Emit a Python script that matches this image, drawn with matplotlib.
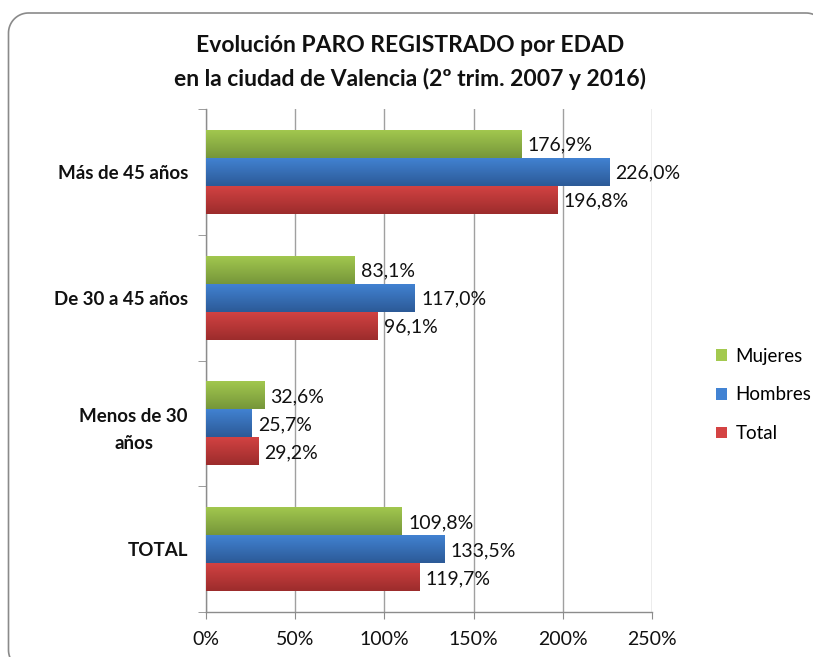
import numpy as np
import matplotlib
matplotlib.use("Agg")
import matplotlib.pyplot as plt
from matplotlib.patches import Patch, PathPatch
from matplotlib.path import Path
from matplotlib.ticker import FixedLocator, PercentFormatter

plt.rcParams["font.family"] = ["Lato", "DejaVu Sans"]

# Categories listed bottom to top on the y axis
categories = ["TOTAL", "Menos de 30\naños", "De 30 a 45 años", "Más de 45 años"]
series_names = ["Mujeres", "Hombres", "Total"]
mujeres = [109.8, 32.6, 83.1, 176.9]
hombres = [133.5, 25.7, 117.0, 226.0]
total = [119.7, 29.2, 96.1, 196.8]
xticks = [0, 50, 100, 150, 200, 250]

# (top colour, bottom colour) of each series' vertical gradient
colors = {
    "Mujeres": ("#a3c94f", "#76963a"),
    "Hombres": ("#4283d3", "#2c5a97"),
    "Total": ("#d44343", "#9c2c2c"),
}

W, H = 813, 657
fig = plt.figure(figsize=(W / 100, H / 100), dpi=100)
fig.patch.set_facecolor("white")


def rounded_rect(x0, y0, x1, y1, r, n=24):
    """Closed rounded-rectangle outline in figure pixel units (y down)."""
    pts = []
    corners = [(x1 - r, y0 + r, -90, 0), (x1 - r, y1 - r, 0, 90),
               (x0 + r, y1 - r, 90, 180), (x0 + r, y0 + r, 180, 270)]
    for cx, cy, a0, a1 in corners:
        a = np.radians(np.linspace(a0, a1, n))
        pts.extend(zip(cx + r * np.cos(a), cy + r * np.sin(a)))
    pts.append(pts[0])
    pts = np.array(pts)
    pts[:, 0] /= W
    pts[:, 1] = 1 - pts[:, 1] / H
    return Path(pts)


frame = PathPatch(rounded_rect(8.5, 13, 826, 670, 20), transform=fig.transFigure,
                  facecolor="none", edgecolor="#8a8a8a", linewidth=1.2)
fig.patches.append(frame)

ax = fig.add_axes([206 / W, 1 - 612 / H, (652 - 206) / W, (612 - 109) / H])

y = np.arange(len(categories))
h = 0.223
offsets = {"Mujeres": h, "Hombres": 0.0, "Total": -h}
values = {"Mujeres": mujeres, "Hombres": hombres, "Total": total}


def gradient_bars(bars, top, bottom):
    c_top = np.array(matplotlib.colors.to_rgb(top))
    c_bot = np.array(matplotlib.colors.to_rgb(bottom))
    t = np.linspace(0, 1, 64)[:, None]
    img = (c_bot * (1 - t) + c_top * t)[:, None, :]
    for b in bars:
        x0, y0 = b.get_x(), b.get_y()
        w, hh = b.get_width(), b.get_height()
        im = ax.imshow(img, extent=(x0, x0 + w, y0, y0 + hh), origin="lower",
                       aspect="auto", zorder=3, interpolation="bilinear")
        im.set_clip_path(b)


for name in series_names:
    top, bottom = colors[name]
    bars = ax.barh(y + offsets[name], values[name], height=h,
                   color=top, edgecolor="none", zorder=2)
    gradient_bars(bars, top, bottom)
    for yy, v in zip(y + offsets[name], values[name]):
        ax.annotate(f"{v:.1f}%".replace(".", ","), (v, yy), xytext=(4.5, -1),
                    textcoords="offset points", va="center", ha="left",
                    fontsize=14, color="#111111", zorder=4)

ax.set_xlim(0, 250)
ax.set_ylim(-0.5, len(categories) - 0.5)
ax.set_aspect("auto")

# axes styling
ax.set_xticks(xticks)
ax.xaxis.set_major_formatter(PercentFormatter(decimals=0))
ax.grid(axis="x", color="#a0a0a0", linewidth=1.0, zorder=0)
ax.set_axisbelow(True)
for s in ["top", "right"]:
    ax.spines[s].set_visible(False)
for s in ["left", "bottom"]:
    ax.spines[s].set_color("#8c8c8c")
    ax.spines[s].set_linewidth(1.0)
ax.tick_params(axis="x", length=5, color="#8c8c8c", pad=9, labelsize=14,
               labelcolor="#111111")

ax.set_yticks(y)
ax.set_yticklabels(categories, fontweight="bold", fontsize=13.5,
                   multialignment="center", color="#111111", linespacing=1.7)
ax.tick_params(axis="y", which="major", length=0, pad=13)
ax.yaxis.set_minor_locator(FixedLocator(np.arange(len(categories) + 1) - 0.5))
ax.tick_params(axis="y", which="minor", length=6, color="#8c8c8c")

fig.text(410 / W, 1 - 45 / H, "Evolución PARO REGISTRADO por EDAD",
         ha="center", va="center", fontsize=16.5, fontweight="bold", color="#111111")
fig.text(410 / W, 1 - 79 / H, "en la ciudad de Valencia (2º trim. 2007 y 2016)",
         ha="center", va="center", fontsize=16.5, fontweight="bold", color="#111111")

handles = [Patch(facecolor=colors[n][0], edgecolor="none") for n in series_names]
fig.legend(handles, series_names, loc="center left",
           bbox_to_anchor=(716 / W, 1 - 395 / H), frameon=False,
           fontsize=13.5, handlelength=0.6, handleheight=0.6, handletextpad=0.45,
           labelspacing=1.15, borderaxespad=0, borderpad=0)

fig.savefig("out.png", dpi=100, facecolor="white")
